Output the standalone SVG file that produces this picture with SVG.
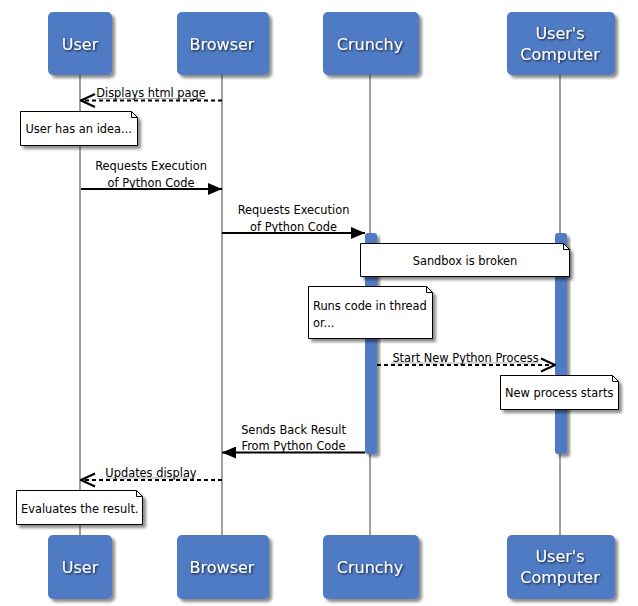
<svg xmlns="http://www.w3.org/2000/svg" width="638" height="606" viewBox="0 0 638 606">
<defs>
<filter id="shadow" x="-20%" y="-20%" width="150%" height="150%">
<feDropShadow dx="3" dy="3" stdDeviation="1.5" flood-color="#000" flood-opacity="0.45"/>
</filter>
<filter id="tshadow" x="-20%" y="-40%" width="150%" height="180%">
<feDropShadow dx="1" dy="1" stdDeviation="0.8" flood-color="#000" flood-opacity="0.8"/>
</filter>
<marker id="filled" markerWidth="14" markerHeight="12" refX="14" refY="6" orient="auto" markerUnits="userSpaceOnUse">
<path d="M0,0 L14,6 L0,12 Z" fill="#000"/>
</marker>
<marker id="open" markerWidth="16" markerHeight="16" refX="15" refY="8" orient="auto" markerUnits="userSpaceOnUse">
<path d="M1,1.5 L15,8 L1,14.5" fill="none" stroke="#000" stroke-width="2"/>
</marker>
</defs>
<style>
.box{fill:#4F7AC4;filter:url(#shadow)}
.pname{font-family:"DejaVu Sans",sans-serif;font-size:16px;fill:#fff;text-anchor:middle;filter:url(#tshadow)}
.life{stroke:#888;stroke-width:1.6}
.act{fill:#4F7AC4;filter:url(#shadow)}
.note{fill:#fff;stroke:#000;stroke-width:1;filter:url(#shadow)}
.fold{fill:none;stroke:#000;stroke-width:1}
.t{font-family:"DejaVu Sans",sans-serif;font-size:11.4px;fill:#000}
.c{text-anchor:middle}
.msg{stroke:#000;stroke-width:2;fill:none}
.dash{stroke-dasharray:4,3}
.ul{stroke:#aaa;stroke-width:1}
</style>
<rect width="638" height="606" fill="#fff"/>

<g id="lifelines">
<line class="life" x1="80" y1="75" x2="80" y2="535"/>
<line class="life" x1="222" y1="75" x2="222" y2="535"/>
<line class="life" x1="370" y1="75" x2="370" y2="535"/>
<line class="life" x1="560" y1="75" x2="560" y2="535"/>
</g>

<g id="activations">
<rect class="act" x="365" y="233" width="12" height="221" rx="3"/>
<rect class="act" x="555" y="233" width="12" height="221" rx="3"/>
</g>

<g id="p-user">
<rect class="box" x="48" y="12" width="64" height="63" rx="5"/>
<text class="pname" x="80" y="49.5">User</text>
</g>
<g id="p-browser">
<rect class="box" x="177" y="12" width="92" height="63" rx="5"/>
<text class="pname" x="222" y="49.5">Browser</text>
</g>
<g id="p-crunchy">
<rect class="box" x="323" y="12" width="96" height="63" rx="5"/>
<text class="pname" x="370" y="49.5">Crunchy</text>
</g>
<g id="p-computer">
<rect class="box" x="507" y="12" width="108" height="63" rx="5"/>
<text class="pname" x="560" y="38.5">User's</text>
<text class="pname" x="560" y="59.5">Computer</text>
</g>

<g id="p-user-bottom">
<rect class="box" x="48" y="535" width="64" height="64" rx="5"/>
<text class="pname" x="80" y="573">User</text>
</g>
<g id="p-browser-bottom">
<rect class="box" x="177" y="535" width="92" height="64" rx="5"/>
<text class="pname" x="222" y="573">Browser</text>
</g>
<g id="p-crunchy-bottom">
<rect class="box" x="323" y="535" width="96" height="64" rx="5"/>
<text class="pname" x="370" y="573">Crunchy</text>
</g>
<g id="p-computer-bottom">
<rect class="box" x="507" y="535" width="108" height="64" rx="5"/>
<text class="pname" x="560" y="562">User's</text>
<text class="pname" x="560" y="583">Computer</text>
</g>

<g id="connectors">
<line class="ul" x1="97" y1="98.5" x2="204" y2="98.5"/>
<line class="msg dash" x1="222" y1="100.5" x2="81" y2="100.5" marker-end="url(#open)"/>
<text class="t c" x="151" y="97">Displays html page</text>

<line class="msg" x1="81" y1="189" x2="222" y2="189" marker-end="url(#filled)"/>
<text class="t c" x="151" y="170">Requests Execution</text>
<text class="t c" x="151" y="186.5">of Python Code</text>

<line class="msg" x1="222" y1="233" x2="365" y2="233" marker-end="url(#filled)"/>
<text class="t c" x="293.5" y="214">Requests Execution</text>
<text class="t c" x="293.5" y="230.5">of Python Code</text>

<line class="ul" x1="391" y1="363" x2="539" y2="363"/>
<line class="msg dash" x1="377" y1="365" x2="555" y2="365" marker-end="url(#open)"/>
<text class="t c" x="465.5" y="361.5">Start New Python Process</text>

<line class="msg" x1="365" y1="452.5" x2="222" y2="452.5" marker-end="url(#filled)"/>
<text class="t c" x="293.5" y="433.5">Sends Back Result</text>
<text class="t c" x="293.5" y="450">From Python Code</text>

<line class="ul" x1="106" y1="478" x2="195" y2="478"/>
<line class="msg dash" x1="222" y1="480" x2="81" y2="480" marker-end="url(#open)"/>
<text class="t c" x="151" y="476.5">Updates display</text>
</g>

<g id="note-idea">
<path class="note" d="M20.5,111.5 H131.5 L137.5,117.5 V145.5 H20.5 Z"/>
<path class="fold" d="M131.5,111.5 V117.5 H137.5"/>
<text class="t" x="25.5" y="133">User has an idea...</text>
</g>
<g id="note-sandbox">
<path class="note" d="M360.5,243.5 H563.5 L569.5,249.5 V276.5 H360.5 Z"/>
<path class="fold" d="M563.5,243.5 V249.5 H569.5"/>
<text class="t c" x="465" y="265">Sandbox is broken</text>
</g>
<g id="note-thread">
<path class="note" d="M308.5,286.5 H426.5 L432.5,292.5 V338.5 H308.5 Z"/>
<path class="fold" d="M426.5,286.5 V292.5 H432.5"/>
<text class="t" x="313" y="310">Runs code in thread</text>
<text class="t" x="313" y="326.5">or...</text>
</g>
<g id="note-process">
<path class="note" d="M500.5,375.5 H612.5 L618.5,381.5 V409.5 H500.5 Z"/>
<path class="fold" d="M612.5,375.5 V381.5 H618.5"/>
<text class="t" x="505" y="397">New process starts</text>
</g>
<g id="note-evaluate">
<path class="note" d="M16.5,490.5 H136.5 L142.5,496.5 V524.5 H16.5 Z"/>
<path class="fold" d="M136.5,490.5 V496.5 H142.5"/>
<text class="t" x="21" y="512.5">Evaluates the result.</text>
</g>
</svg>
